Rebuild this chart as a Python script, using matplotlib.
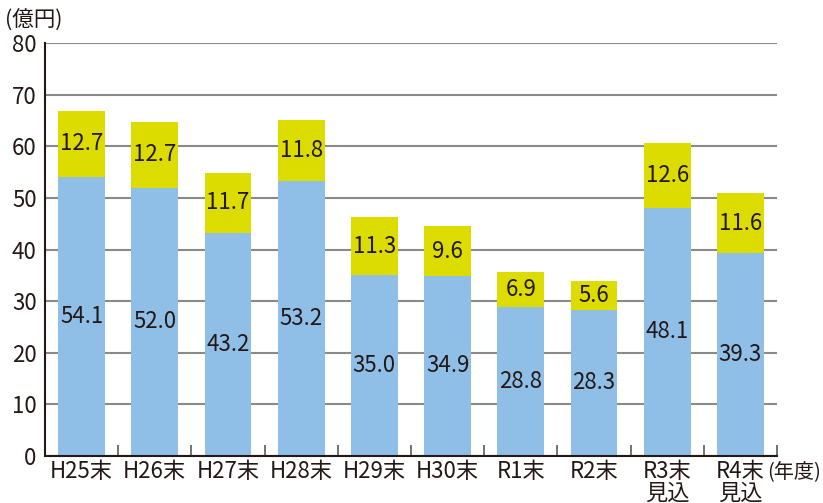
import matplotlib
matplotlib.use("Agg")
import matplotlib.pyplot as plt
import numpy as np

plt.rcParams["font.family"] = ["Noto Sans CJK JP", "DejaVu Sans"]

categories = ["H25末", "H26末", "H27末", "H28末", "H29末", "H30末", "R1末", "R2末", "R3末\n見込", "R4末\n見込"]
lower_vals = [54.1, 52.0, 43.2, 53.2, 35.0, 34.9, 28.8, 28.3, 48.1, 39.3]
upper_vals = [12.7, 12.7, 11.7, 11.8, 11.3, 9.6, 6.9, 5.6, 12.6, 11.6]
y_ticks = [0, 10, 20, 30, 40, 50, 60, 70, 80]

blue = "#8fbfe6"
yellow = "#dcdc00"
text_c = "#231815"

fig = plt.figure(figsize=(8.23, 5.03), dpi=100)
ax = fig.add_axes([0.0547, 0.0934, 0.8893, 0.8211])

x = np.arange(len(categories))
w = 0.64
ax.bar(x, lower_vals, width=w, color=blue, zorder=2)
ax.bar(x, upper_vals, width=w, bottom=lower_vals, color=yellow, zorder=2)

for xi, lo, up in zip(x, lower_vals, upper_vals):
    ax.text(xi, lo / 2, f"{lo:.1f}", ha="center", va="center", fontsize=16, color=text_c, zorder=3)
    ax.text(xi, lo + up / 2, f"{up:.1f}", ha="center", va="center", fontsize=16, color=text_c, zorder=3)

ax.set_xlim(-0.5, len(categories) - 0.5)
ax.set_ylim(0, 80)
ax.set_yticks(y_ticks)
ax.yaxis.grid(True, color="#8a8a8a", linewidth=1.5, zorder=1)
ax.set_axisbelow(True)

ax.set_xticks(x)
ax.set_xticklabels(categories, fontsize=16, color=text_c, linespacing=0.9, va="top")
ax.set_xticks(np.arange(0.5, len(categories)), minor=True)
ax.tick_params(axis="x", which="major", length=0, pad=3)
ax.tick_params(axis="x", which="minor", direction="in", length=8, width=1.2, color="#5a5a5a")
ax.tick_params(axis="y", length=0, labelsize=16, labelcolor=text_c, pad=6)

for s in ["top", "right"]:
    ax.spines[s].set_visible(False)
for s in ["left", "bottom"]:
    ax.spines[s].set_color(text_c)
    ax.spines[s].set_linewidth(1.5)

fig.text(0.006, 0.958, "(億円)", fontsize=15.5, color=text_c, ha="left", va="center")
ax.text(0.986, -0.012, "(年度)", transform=ax.transAxes, fontsize=14.5, color=text_c, ha="left", va="top")

fig.savefig("out.png", dpi=100)
